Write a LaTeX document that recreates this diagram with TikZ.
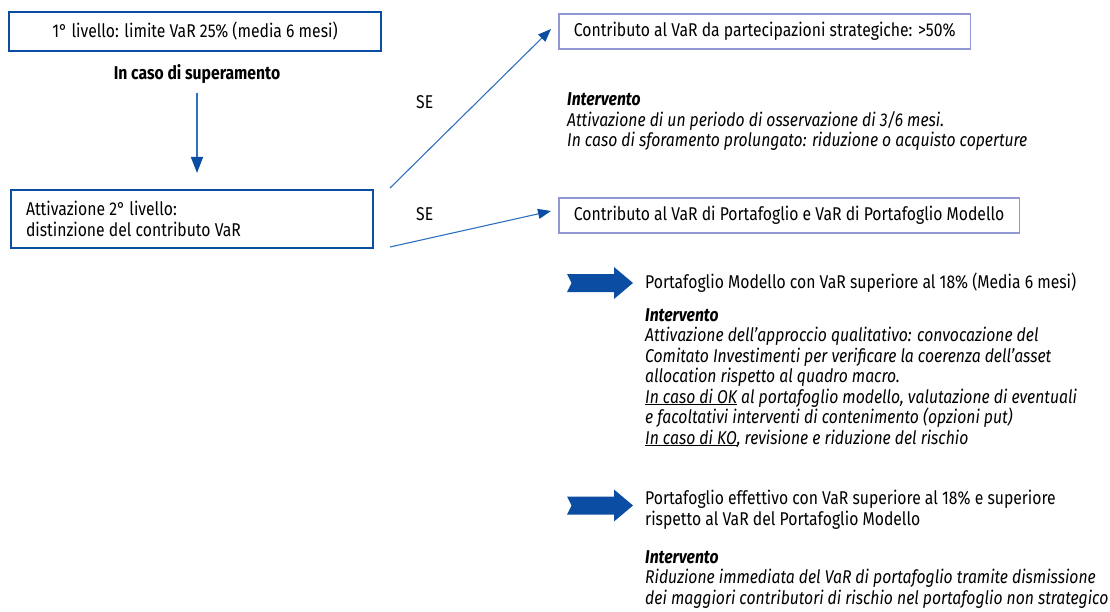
\documentclass[tikz,border=0pt]{standalone}
\usepackage{fontspec}
\setmainfont[FakeStretch=0.85]{Fira Sans}
\usetikzlibrary{arrows.meta}
\definecolor{dkblue}{HTML}{0B4DA2}
\definecolor{lnblue}{HTML}{2E6FBF}
\definecolor{lilac}{HTML}{8F97D4}
\newcommand{\fs}{\fontsize{18.5}{20.5}\selectfont}
\begin{document}
\begin{tikzpicture}[x=1pt,y=-1pt,
  txt/.style={font=\fs, inner sep=0pt, text=black},
  itxt/.style={font=\fs\itshape, inner sep=0pt, text=black, align=left, anchor=base west},
  lvlbox/.style={draw=dkblue, line width=2.3pt, inner sep=0pt, font=\fs},
  condbox/.style={draw=lilac, line width=1.8pt, inner xsep=15pt, inner ysep=0pt, minimum height=35pt, font=\fs, anchor=west},
  thinarrow/.style={draw=lnblue, line width=1.1pt, -{Triangle[length=13pt,width=10pt,fill=dkblue,color=dkblue]}},
  downarrow/.style={draw=lnblue, line width=1.5pt, -{Triangle[length=16pt,width=12pt,fill=dkblue,color=dkblue]}},
  fatarrow/.style={fill=dkblue, draw=none}
]
\useasboundingbox (0,0) rectangle (1110,612);

% level boxes
\node[lvlbox, minimum width=372pt, minimum height=39pt] (lvl1) at (195,31.5)
  {1° livello: limite VaR 25\% (media 6 mesi)};
\node[txt, anchor=base, font=\fs\bfseries] (sup) at (197,80) {In caso di superamento};
\node[lvlbox, minimum width=362pt, minimum height=58pt, align=left] (lvl2) at (192,219)
  {\makebox[332pt][l]{Attivazione 2° livello:}\\\makebox[332pt][l]{distinzione del contributo VaR}};

% condition boxes
\node[condbox] (c1) at (558,31.5)
  {Contributo al VaR da partecipazioni strategiche: >50\%};
\node[condbox] (c2) at (558,215.5)
  {Contributo al VaR di Portafoglio e VaR di Portafoglio Modello};

% connectors
\coordinate (d0) at (197,93);
\coordinate (d1) at (197,173);
\draw[downarrow] (d0) -- (d1);
\coordinate (s1) at (390,188);
\coordinate (e1) at (551,29);
\coordinate (s2) at (390,247);
\coordinate (e2) at (551,211);
\draw[thinarrow] (s1) -- (e1);
\draw[thinarrow] (s2) -- (e2);
\node[txt, anchor=base west] (se1) at (416,109) {SE};
\node[txt, anchor=base west] (se2) at (416,221) {SE};

% intervention 1
\node[itxt] (int1) at (567,147)
  {\textbf{Intervento}\\
   Attivazione di un periodo di osservazione di 3/6 mesi.\\
   In caso di sforamento prolungato: riduzione o acquisto coperture};

% fat arrows
\draw[fatarrow] (567,274) -- (614,274) -- (614,267) -- (633,283) -- (614,299) -- (614,292) -- (567,292) -- (571.5,283) -- cycle;
\draw[fatarrow] (567,496.5) -- (614,496.5) -- (614,489.5) -- (633,505.5) -- (614,521.5) -- (614,514.5) -- (567,514.5) -- (571.5,505.5) -- cycle;

\node[txt, anchor=base west] (pm) at (645,288) {Portafoglio Modello con VaR superiore al 18\% (Media 6 mesi)};
\node[itxt] (int2) at (645,444)
  {\textbf{Intervento}\\
   Attivazione dell’approccio qualitativo: convocazione del\\
   Comitato Investimenti per verificare la coerenza dell’asset\\
   allocation rispetto al quadro macro.\\
   \underline{In caso di OK} al portafoglio modello, valutazione di eventuali\\
   e facoltativi interventi di contenimento (opzioni put)\\
   \underline{In caso di KO}, revisione e riduzione del rischio};

\node[txt, anchor=base west, align=left] (pe) at (645,525)
  {Portafoglio effettivo con VaR superiore al 18\% e superiore\\
   rispetto al VaR del Portafoglio Modello};
\node[itxt] (int3) at (645,604)
  {\textbf{Intervento}\\
   Riduzione immediata del VaR di portafoglio tramite dismissione\\
   dei maggiori contributori di rischio nel portafoglio non strategico};
\end{tikzpicture}
\end{document}
